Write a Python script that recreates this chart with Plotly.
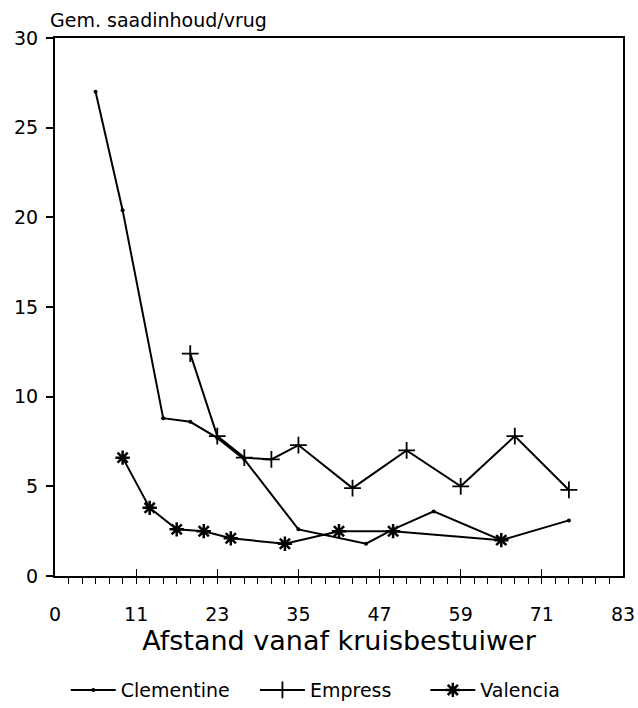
import plotly.graph_objects as go

# Data
clem_x = [5, 9, 15, 19, 23, 27, 35, 45, 49, 55, 65, 75]
clem_y = [27.0, 20.4, 8.8, 8.6, 7.7, 6.5, 2.6, 1.8, 2.6, 3.6, 2.0, 3.1]
emp_x = [19, 23, 27, 31, 35, 43, 51, 59, 67, 75]
emp_y = [12.4, 7.8, 6.6, 6.5, 7.3, 4.9, 7.0, 5.0, 7.8, 4.8]
val_x = [9, 13, 17, 21, 25, 33, 41, 49, 65]
val_y = [6.6, 3.8, 2.6, 2.5, 2.1, 1.8, 2.5, 2.5, 2.0]

x_tickvals = [-1, 11, 23, 35, 47, 59, 71, 83]
x_ticktext = ["0", "11", "23", "35", "47", "59", "71", "83"]
y_tickvals = [0, 5, 10, 15, 20, 25, 30]

FONT = "DejaVu Sans, Liberation Sans, sans-serif"

fig = go.Figure()
fig.add_trace(go.Scatter(
    x=clem_x, y=clem_y, mode="lines+markers", name="Clementine",
    line=dict(color="black", width=2),
    marker=dict(symbol="circle", size=4, color="black"),
    legend="legend",
))
fig.add_trace(go.Scatter(
    x=emp_x, y=emp_y, mode="lines+markers", name="Empress",
    line=dict(color="black", width=2),
    marker=dict(symbol="cross-thin", size=12, color="black",
                line=dict(color="black", width=1.8)),
    legend="legend2",
))
fig.add_trace(go.Scatter(
    x=val_x, y=val_y, mode="lines+markers", name="Valencia",
    line=dict(color="black", width=2),
    marker=dict(symbol="asterisk", size=12, color="black",
                line=dict(color="black", width=2.5)),
    legend="legend3",
))

leg_common = dict(orientation="h", y=-0.212, yanchor="middle", xanchor="left",
                  font=dict(size=19), itemwidth=45, bgcolor="rgba(0,0,0,0)")

fig.update_layout(
    width=638, height=708,
    margin=dict(l=55, r=15, t=38, b=132, autoexpand=False),
    paper_bgcolor="white", plot_bgcolor="white",
    font=dict(family=FONT, color="black", size=18),
    showlegend=True,
    legend=dict(x=0.019, **leg_common),
    legend2=dict(x=0.352, **leg_common),
    legend3=dict(x=0.652, **leg_common),
    annotations=[
        dict(text="Gem. saadinhoud/vrug", x=-0.013, y=1.0, xref="paper", yref="paper",
             xanchor="left", yanchor="bottom", yshift=5, showarrow=False,
             font=dict(size=19)),
    ],
)

fig.update_xaxes(
    range=[-1, 83], tickmode="array", tickvals=x_tickvals, ticktext=x_ticktext,
    showgrid=False, zeroline=False, automargin=False,
    showline=True, linecolor="black", linewidth=2, mirror=True,
    ticks="inside", ticklen=7, tickwidth=1, tickcolor="black",
    ticklabelstandoff=20,
    tickfont=dict(size=19),
    minor=dict(tick0=-1, dtick=2, ticks="outside", ticklen=6, tickwidth=1,
               tickcolor="black", showgrid=False),
    title=dict(text="Afstand vanaf kruisbestuiwer", font=dict(size=27), standoff=4),
)
fig.update_yaxes(
    range=[0, 30], tickmode="array", tickvals=y_tickvals,
    showgrid=False, zeroline=False, automargin=False,
    showline=True, linecolor="black", linewidth=2, mirror=True,
    ticks="outside", ticklen=7, tickwidth=1.5, tickcolor="black",
    ticklabelstandoff=4,
    tickfont=dict(size=19),
)

fig.write_html("out.html")
